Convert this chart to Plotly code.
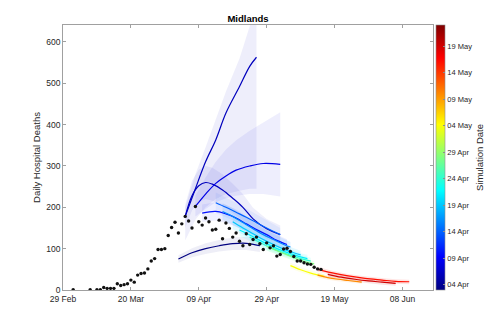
#!/usr/bin/env python3
"""Midlands: daily hospital deaths with projections coloured by simulation date."""

import pandas as pd
import plotly.graph_objects as go
from plotly.colors import sample_colorscale

# Observed daily hospital deaths
early_dates = ["2020-03-03", "2020-03-08", "2020-03-10", "2020-03-11"]
early_deaths = [1, 1, 1, 1]
daily_start = "2020-03-12"
daily_deaths = [
    6, 4, 4, 4, 15, 11, 13, 15, 24, 19, 36, 40, 41, 51, 70, 76, 98, 98, 100, 132,
    151, 164, 138, 160, 178, 167, 150, 202, 165, 157, 174, 165, 145, 147, 169, 124,
    162, 149, 128, 138, 118, 107, 136, 110, 122, 128, 112, 98, 114, 102,
    107, 82, 86, 99, 101, 93, 81, 70, 70, 66, 63, 62, 55, 51, 50,
]

# Projections: one entry per simulation run
sim_dates = [
    "2020-04-03", "2020-04-06", "2020-04-06", "2020-04-08", "2020-04-10",
    "2020-04-14", "2020-04-16", "2020-04-19", "2020-04-21", "2020-04-24",
    "2020-04-28", "2020-05-04", "2020-05-10", "2020-05-16", "2020-05-19",
]
proj_dates = [
    ["04-03", "04-07", "04-11", "04-15", "04-19", "04-23", "04-27"],
    ["04-05", "04-08", "04-11", "04-14", "04-17", "04-21", "04-24", "04-26"],
    ["04-05", "04-07", "04-09", "04-11", "04-13", "04-16", "04-19", "04-22", "04-25", "04-29", "05-03"],
    ["04-08", "04-11", "04-14", "04-17", "04-20", "04-24", "04-28", "05-03"],
    ["04-10", "04-14", "04-17", "04-20", "04-23", "04-26", "04-29", "05-02", "05-05"],
    ["04-14", "04-17", "04-20", "04-23", "04-26", "04-29", "05-03"],
    ["04-16", "04-19", "04-22", "04-25", "04-28", "05-01", "05-04", "05-06"],
    ["04-19", "04-22", "04-25", "04-28", "05-01", "05-04", "05-07", "05-09"],
    ["04-21", "04-24", "04-27", "04-30", "05-03", "05-06", "05-09", "05-11"],
    ["04-24", "04-27", "04-30", "05-03", "05-06", "05-09", "05-12"],
    ["04-29", "05-02", "05-05", "05-08", "05-11", "05-13"],
    ["05-06", "05-09", "05-12", "05-16"],
    ["05-14", "05-17", "05-20", "05-23", "05-27"],
    ["05-14", "05-18", "05-23", "05-28", "06-02", "06-06", "06-10"],
    ["05-17", "05-21", "05-25", "05-29", "06-02", "06-06"],
]
proj_mid = [
    [75, 90, 100, 107, 112, 113, 107],
    [178, 245, 310, 363, 428, 492, 541, 563],
    [178, 228, 252, 260, 256, 242, 222, 200, 172, 148, 134],
    [202, 232, 258, 276, 290, 300, 306, 304],
    [186, 190, 184, 174, 160, 146, 134, 120, 110],
    [211, 200, 188, 176, 163, 150, 134],
    [190, 178, 163, 148, 134, 122, 110, 104],
    [165, 150, 136, 122, 110, 99, 90, 85],
    [145, 133, 120, 108, 97, 88, 80, 76],
    [128, 115, 103, 93, 84, 76, 70],
    [106, 95, 85, 75, 67, 63],
    [59, 49, 41, 33],
    [36, 30, 26, 23, 19],
    [50, 42, 34, 28, 24, 21, 20],
    [38, 31, 26, 22, 19, 16],
]
proj_lo = [
    [66, 79, 87, 93, 97, 97, 92],
    [120, 170, 200, 220, 232, 240, 245, 245],
    [150, 192, 213, 220, 216, 204, 187, 168, 145, 124, 112],
    [178, 196, 212, 222, 228, 232, 232, 226],
    [165, 168, 162, 153, 141, 128, 118, 106, 97],
    [186, 176, 165, 155, 143, 132, 118],
    [170, 158, 145, 131, 119, 108, 97, 92],
    [147, 134, 121, 108, 97, 87, 79, 75],
    [130, 119, 107, 96, 86, 78, 71, 67],
    [115, 103, 92, 83, 75, 67, 62],
    [96, 86, 76, 67, 60, 56],
    [52, 43, 35, 28],
    [30, 25, 21, 18, 15],
    [44, 36, 28, 22, 18, 15, 14],
    [32, 25, 20, 16, 13, 10],
]
proj_hi = [
    [84, 101, 113, 121, 127, 129, 122],
    [200, 280, 345, 412, 480, 560, 640, 690],
    [206, 264, 291, 300, 296, 280, 257, 232, 199, 172, 156],
    [228, 272, 310, 340, 362, 385, 405, 430],
    [207, 212, 206, 195, 179, 164, 150, 134, 123],
    [236, 224, 211, 197, 183, 168, 150],
    [210, 198, 181, 165, 149, 136, 123, 116],
    [183, 166, 151, 136, 123, 111, 101, 95],
    [160, 147, 133, 120, 108, 98, 89, 85],
    [141, 127, 114, 103, 93, 85, 78],
    [116, 104, 94, 83, 74, 70],
    [66, 55, 47, 38],
    [42, 35, 31, 27, 23],
    [56, 47, 39, 33, 29, 26, 25],
    [44, 36, 31, 27, 24, 21],
]

x_tick_start = "2020-02-29"
x_range = ["2020-02-29", "2020-06-17"]
y_ticks = [0, 100, 200, 300, 400, 500, 600]
cbar_range = ["2020-04-03", "2020-05-23"]
cbar_tick_dates = [
    "2020-04-04", "2020-04-09", "2020-04-14", "2020-04-19", "2020-04-24",
    "2020-04-29", "2020-05-04", "2020-05-09", "2020-05-14", "2020-05-19",
]

JET = [
    [0.0, "rgb(0,0,128)"],
    [0.125, "rgb(0,0,255)"],
    [0.375, "rgb(0,255,255)"],
    [0.625, "rgb(255,255,0)"],
    [0.875, "rgb(255,0,0)"],
    [1.0, "rgb(128,0,0)"],
]
FONT = "Liberation Sans, Arial, Helvetica, sans-serif"
ORIGIN = pd.Timestamp("2020-02-29")

# the page body has a default 8px margin, so the figure is sized to fit around it
FIG_W, FIG_H = 491, 317


def day_num(d) -> float:
    return (pd.Timestamp(d) - ORIGIN).days


def rgba(rgb: str, alpha: float) -> str:
    return rgb.replace("rgb(", "rgba(").replace(")", f",{alpha})")


def main() -> None:
    cmin, cmax = day_num(cbar_range[0]), day_num(cbar_range[1])
    fig = go.Figure()

    fracs = [(day_num(sim) - cmin) / (cmax - cmin) for sim in sim_dates]
    colors = sample_colorscale(JET, fracs)

    # bands first (blue runs are fainter)
    for dates, lo, hi, col, frac in zip(proj_dates, proj_lo, proj_hi, colors, fracs):
        xs = ["2020-" + d for d in dates]
        alpha = 0.065 if frac < 0.25 else 0.11
        fig.add_trace(
            go.Scatter(
                x=xs + xs[::-1],
                y=hi + lo[::-1],
                fill="toself",
                fillcolor=rgba(col, alpha),
                line=dict(width=0),
                mode="lines",
                hoverinfo="skip",
                showlegend=False,
            )
        )

    for dates, mid, col in zip(proj_dates, proj_mid, colors):
        xs = ["2020-" + d for d in dates]
        fig.add_trace(
            go.Scatter(
                x=xs,
                y=mid,
                mode="lines",
                line=dict(color=col, width=1.2, shape="spline"),
                showlegend=False,
            )
        )

    obs_x = list(pd.to_datetime(early_dates)) + list(
        pd.date_range(daily_start, periods=len(daily_deaths), freq="D")
    )
    obs_y = early_deaths + daily_deaths
    fig.add_trace(
        go.Scatter(
            x=obs_x,
            y=obs_y,
            mode="markers",
            marker=dict(color="#111111", size=3.4),
            showlegend=False,
        )
    )

    # colour bar only
    fig.add_trace(
        go.Scatter(
            x=[cbar_range[0], cbar_range[1]],
            y=[None, None],
            mode="markers",
            marker=dict(
                color=[cmin, cmax],
                cmin=cmin,
                cmax=cmax,
                colorscale=JET,
                showscale=True,
                colorbar=dict(
                    thickness=9,
                    len=1,
                    x=1.008,
                    xanchor="left",
                    xpad=0,
                    ypad=0,
                    y=0.5,
                    yanchor="middle",
                    outlinewidth=0.6,
                    outlinecolor="#8c8c8c",
                    tickvals=[day_num(d) for d in cbar_tick_dates],
                    ticktext=[pd.Timestamp(d).strftime("%d %b") for d in cbar_tick_dates],
                    ticks="inside",
                    ticklen=2,
                    tickcolor="#8c8c8c",
                    tickfont=dict(size=7.5, color="#262626", family=FONT),
                    title=dict(
                        text="Simulation Date",
                        side="right",
                        font=dict(size=9.5, color="#262626", family=FONT),
                    ),
                ),
            ),
            showlegend=False,
            hoverinfo="skip",
        )
    )

    axis_style = dict(
        showgrid=False,
        zeroline=False,
        showline=True,
        linecolor="#a0a0a0",
        linewidth=0.8,
        mirror="ticks",
        ticks="inside",
        ticklen=3,
        tickcolor="#a0a0a0",
        tickfont=dict(size=8.5, color="#262626", family=FONT),
    )
    fig.update_layout(
        width=FIG_W,
        height=FIG_H,
        margin=dict(l=55, r=66, t=17, b=35),
        plot_bgcolor="white",
        paper_bgcolor="white",
        font=dict(family=FONT, color="#262626"),
        title=dict(
            text="<b>Midlands</b>",
            x=0.5,
            xref="paper",
            xanchor="center",
            y=1 - 11 / FIG_H,
            yanchor="middle",
            font=dict(size=9.5, color="#000000", family=FONT),
        ),
        xaxis=dict(
            type="date",
            range=x_range,
            tick0=x_tick_start,
            dtick=20 * 86400000,
            tickformat="%d %b",
            ticklabelstandoff=1,
            **axis_style,
        ),
        yaxis=dict(
            range=[0, 641],
            tickvals=y_ticks,
            title=dict(
                text="Daily Hospital Deaths",
                standoff=3,
                font=dict(size=9.5, family=FONT),
            ),
            **axis_style,
        ),
    )

    fig.write_html("out.html")


if __name__ == "__main__":
    main()
